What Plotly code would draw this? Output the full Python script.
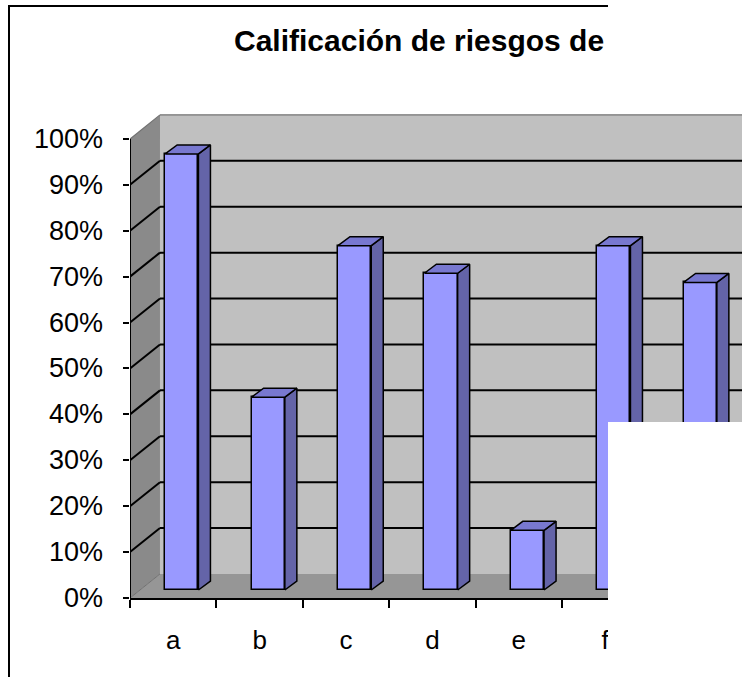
import plotly.graph_objects as go

# ---- data ----
categories = ["a", "b", "c", "d", "e", "f", "g"]
values = [95, 42, 75, 69, 13, 75, 67]          # percent
y_ticks = [0, 10, 20, 30, 40, 50, 60, 70, 80, 90, 100]
y_tick_labels = ["0%", "10%", "20%", "30%", "40%", "50%", "60%", "70%", "80%", "90%", "100%"]
title_text = "Calificación de riesgos de"

# ---- geometry (oblique 3D look, in axis units) ----
X_MAX = 7.083           # visible x range (categories)
Y_MAX = 110
WALL_DX, WALL_DY = 0.347, 5.23     # depth of the walls
BAR_OFF_X, BAR_BASE = 0.0995, 1.74  # bars sit mid-depth
BAR_W = 0.385
BAR_DX, BAR_DY = 0.139, 1.96        # depth of each bar
FAR = 9.0

FRONT = "#9999FF"
SIDE = "#6464A8"
TOP = "#7878D0"
BACK_WALL = "#C0C0C0"
SIDE_WALL = "#8A8A8A"
FLOOR = "#969696"
FONT = "Liberation Sans, Arial, sans-serif"

fig = go.Figure()

shapes = []
def poly(pts, fill, line_color="rgba(0,0,0,0)", lw=0, layer="below"):
    path = "M " + " L ".join(f"{x},{y}" for x, y in pts) + " Z"
    shapes.append(dict(type="path", path=path, xref="x", yref="y", fillcolor=fill,
                       line=dict(color=line_color, width=lw), layer=layer))

def seg(x0, y0, x1, y1, color, width, layer="below"):
    shapes.append(dict(type="line", x0=x0, y0=y0, x1=x1, y1=y1, xref="x", yref="y",
                       line=dict(color=color, width=width), layer=layer))

ymax_tick = y_ticks[-1]
# walls and floor
poly([(WALL_DX, WALL_DY), (FAR, WALL_DY), (FAR, ymax_tick + WALL_DY), (WALL_DX, ymax_tick + WALL_DY)], BACK_WALL)
poly([(0, 0), (WALL_DX, WALL_DY), (WALL_DX, ymax_tick + WALL_DY), (0, ymax_tick)], SIDE_WALL)
poly([(0, 0), (FAR, 0), (FAR, WALL_DY), (WALL_DX, WALL_DY)], FLOOR)

# gridlines on walls
for v in y_ticks:
    if v == 0:
        seg(0, 0, WALL_DX, WALL_DY, "#707070", 1)
        continue
    col, w = ("#000000", 2) if v < ymax_tick else ("#707070", 1.2)
    seg(WALL_DX, v + WALL_DY, FAR, v + WALL_DY, col, w)
    seg(0, v, WALL_DX, v + WALL_DY, col, w)

# bars: front faces
xs = [i + 0.5 + BAR_OFF_X for i in range(len(categories))]
fig.add_trace(go.Bar(x=xs, y=values, base=BAR_BASE, width=BAR_W,
                     marker=dict(color=FRONT, line=dict(color="black", width=1.5)),
                     hoverinfo="skip", showlegend=False))

# bars: side and top faces
for xc, v in zip(xs, values):
    xl, xr = xc - BAR_W / 2, xc + BAR_W / 2
    yb, yt = BAR_BASE, BAR_BASE + v
    fig.add_trace(go.Scatter(
        x=[xr, xr + BAR_DX, xr + BAR_DX, xr, xr],
        y=[yb, yb + BAR_DY, yt + BAR_DY, yt, yb],
        fill="toself", fillcolor=SIDE, mode="lines",
        line=dict(color="black", width=1.5), hoverinfo="skip", showlegend=False))
    fig.add_trace(go.Scatter(
        x=[xl, xr, xr + BAR_DX, xl + BAR_DX, xl],
        y=[yt, yt, yt + BAR_DY, yt + BAR_DY, yt],
        fill="toself", fillcolor=TOP, mode="lines",
        line=dict(color="black", width=1.5), hoverinfo="skip", showlegend=False))

# value axis line (0% .. 100%)
fig.add_trace(go.Scatter(x=[0, 0], y=[y_ticks[0], ymax_tick], mode="lines",
                         line=dict(color="black", width=2), cliponaxis=False,
                         hoverinfo="skip", showlegend=False))

# y tick labels
annotations = []
for v, lab in zip(y_ticks, y_tick_labels):
    annotations.append(dict(x=0, xref="paper", y=v, yref="y", text=lab, showarrow=False,
                            xanchor="right", yanchor="middle", xshift=-25,
                            font=dict(family=FONT, size=27, color="black")))
# title
annotations.append(dict(x=(232 - 130) / 612, xref="paper", y=(598 - 41) / 505, yref="paper",
                        text="<b>" + title_text + "</b>", showarrow=False,
                        xanchor="left", yanchor="middle",
                        font=dict(family=FONT, size=30, color="black")))

# outer frame (cropped) and white overlay
shapes.append(dict(type="line", xref="paper", yref="paper",
                   x0=(8 - 130) / 612, x1=(608 - 130) / 612,
                   y0=(598 - 6) / 505, y1=(598 - 6) / 505,
                   line=dict(color="black", width=2), layer="above"))
shapes.append(dict(type="line", xref="paper", yref="paper",
                   x0=(9 - 130) / 612, x1=(9 - 130) / 612,
                   y0=(598 - 6) / 505, y1=(598 - 680) / 505,
                   line=dict(color="black", width=2), layer="above"))
shapes.append(dict(type="rect", xref="paper", yref="paper",
                   x0=(608 - 130) / 612, x1=1.05,
                   y0=(598 - 422) / 505, y1=(598 - 690) / 505,
                   fillcolor="white", line=dict(width=0), layer="above"))

fig.update_layout(
    width=742, height=677,
    margin=dict(l=130, r=0, t=93, b=79),
    paper_bgcolor="white", plot_bgcolor="white",
    shapes=shapes, annotations=annotations,
    showlegend=False, bargap=0,
    xaxis=dict(range=[0, X_MAX], showgrid=False, zeroline=False,
               showline=True, linecolor="black", linewidth=2,
               tickmode="array", tickvals=[i + 0.5 for i in range(len(categories))],
               ticktext=categories, ticks="", ticklabelstandoff=18,
               tickfont=dict(family=FONT, size=26, color="black"),
               minor=dict(tickmode="array", tickvals=list(range(len(categories) + 2)),
                          ticks="outside", ticklen=8, tickwidth=2, tickcolor="black"),
               fixedrange=True),
    yaxis=dict(range=[0, Y_MAX], showgrid=False, zeroline=False, showline=False,
               tickmode="array", tickvals=y_ticks, ticks="outside", ticklen=6,
               tickwidth=2, tickcolor="black", showticklabels=False, fixedrange=True),
)

fig.write_html("out.html", config={"displayModeBar": False},
               post_script="document.body.style.margin='0';document.body.style.overflow='hidden';")
